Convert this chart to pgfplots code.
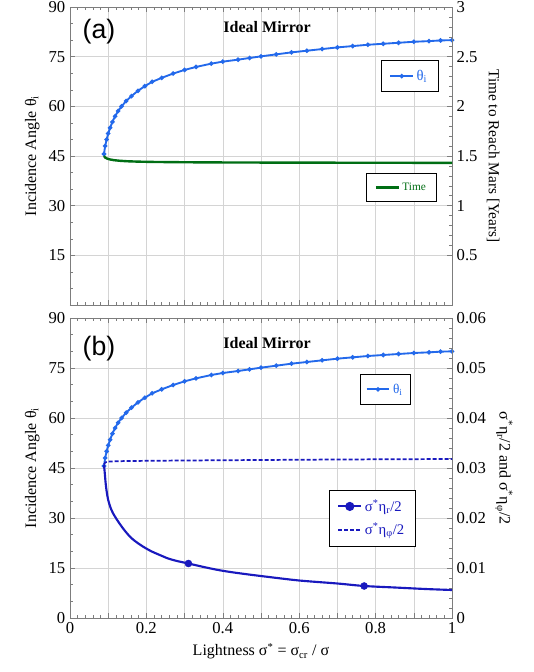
\documentclass[border=0pt]{standalone}
\usepackage{pgfplots}
\pgfplotsset{compat=1.18}
\usepackage{fontspec}
\setmainfont{Liberation Serif}
\newfontfamily\labfont{Liberation Sans}

\definecolor{thblue}{RGB}{35,105,235}
\definecolor{etablue}{RGB}{25,25,190}
\definecolor{tgreen}{RGB}{0,110,20}
\definecolor{framegray}{RGB}{125,125,125}
\definecolor{gridgray}{RGB}{212,212,212}

% incidence angle theta_i vs lightness
\pgfplotstableread{
s th
0.089 45.6
0.092 48.0
0.096 50.0
0.100 51.8
0.105 53.5
0.111 55.3
0.118 57.0
0.126 58.6
0.135 60.0
0.147 61.6
0.161 63.1
0.178 64.7
0.196 66.1
0.215 67.4
0.240 68.6
0.27 69.9
0.30 71.0
0.33 71.9
0.37 72.9
0.40 73.5
0.44 74.1
0.47 74.6
0.50 75.1
0.54 75.7
0.58 76.3
0.62 76.8
0.66 77.3
0.70 77.8
0.74 78.2
0.78 78.6
0.82 78.9
0.86 79.2
0.90 79.5
0.94 79.7
0.97 79.9
1.00 80.0
}\thetatab

% time to reach Mars [years]
\pgfplotstableread{
s t
0.089 1.500
0.092 1.485
0.097 1.474
0.105 1.465
0.115 1.458
0.130 1.452
0.150 1.447
0.180 1.443
0.220 1.440
0.30 1.437
0.40 1.435
0.50 1.434
0.60 1.433
0.80 1.432
1.00 1.431
}\timetab

% sigma* eta_r / 2
\pgfplotstableread{
s er
0.089 0.0306
0.091 0.0290
0.0934 0.0269
0.096 0.0253
0.100 0.0236
0.106 0.0221
0.113 0.0209
0.126 0.0193
0.140 0.0178
0.153 0.0166
0.165 0.0157
0.179 0.0149
0.195 0.0141
0.214 0.0133
0.235 0.0126
0.257 0.0119
0.28 0.0114
0.31 0.0109
0.35 0.0102
0.388 0.0096
0.42 0.0092
0.458 0.0088
0.51 0.0083
0.60 0.0075
0.70 0.0069
0.77 0.0064
0.85 0.0061
0.93 0.0058
1.00 0.0056
}\etartab

% sigma* eta_phi / 2
\pgfplotstableread{
s ep
0.089 0.0307
0.092 0.0311
0.100 0.0313
0.150 0.0314
0.30 0.0315
0.50 0.0316
0.70 0.0317
1.00 0.0318
}\etaptab

\pgfplotsset{
  base/.style={
    scale only axis, width=286.5pt, xmin=0, xmax=1,
    axis line style={framegray},
    tick style={framegray, thin},
    major tick length=4pt, minor tick length=2.5pt,
    ticklabel style={font=\fontsize{12.5}{14}\selectfont},
    /pgf/number format/assume math mode=true,
    label style={font=\fontsize{12}{14}\selectfont},
    scaled y ticks=false,
  },
  main/.style={
    base, ymin=0, ymax=90,
    ytick={0,15,30,45,60,75,90}, minor y tick num=2,
    xtick={0,0.1,0.2,0.3,0.4,0.5,0.6,0.7,0.8,0.9,1}, minor x tick num=4,
    grid=major, major grid style={gridgray, thin},
    ytick pos=left, xtick pos=both,
    ylabel={Incidence Angle θ\textsubscript{i}},
  },
  twin/.style={
    base, axis x line=none, axis y line*=right,
    ylabel style={rotate=180},
  },
  thline/.style={thblue, line width=1.4pt, mark=*, mark size=0.9pt},
  leg/.style={legend style={draw=black, fill=white, thin, inner xsep=6pt, inner ysep=5pt,
      anchor=center, legend cell align=left}},
}

\begin{document}
\begin{tikzpicture}
\useasboundingbox (0,0) rectangle (400.5pt,504pt);

% ---------- (a) ----------
\begin{axis}[main, at={(52.5pt,275.25pt)}, anchor=south west, height=223.5pt,
  yticklabels={,15,30,45,60,75,90},
  xticklabels={},
  leg, legend style={at={(0.889,0.768)}, font=\fontsize{11}{12}\selectfont}]
\addplot[thline] table[x=s, y=th] {\thetatab};
\addlegendentry{\textcolor{thblue}{θ\textsubscript{i}}}
\node[font=\labfont\fontsize{20}{22}\selectfont] at (rel axis cs:0.076,0.919) {(a)};
\node[font=\bfseries\fontsize{12}{14}\selectfont] at (rel axis cs:0.516,0.933) {Ideal Mirror};
\end{axis}

\begin{axis}[twin, at={(52.5pt,275.25pt)}, anchor=south west, height=223.5pt,
  ymin=0, ymax=3, ytick={0.5,1,1.5,2,2.5,3}, yticklabels={0.5,1,1.5,2,2.5,3},
  minor y tick num=4,
  ylabel={Time to Reach Mars [Years]},
  ylabel style={font=\fontsize{11.5}{13}\selectfont},
  leg, legend style={at={(0.868,0.394)}, font=\fontsize{8.5}{10}\selectfont}]
\addplot[tgreen, line width=1.8pt, no marks] table[x=s, y=t] {\timetab};
\addlegendentry{\textcolor{tgreen}{Time}}
\end{axis}

% ---------- (b) ----------
\begin{axis}[main, at={(52.5pt,40.5pt)}, anchor=south west, height=225pt,
  xticklabels={0,,0.2,,0.4,,0.6,,0.8,,1},
  xlabel={Lightness σ\textsuperscript{*} = σ\textsubscript{cr} / σ},
  leg, legend style={at={(0.826,0.762)}, font=\fontsize{10}{12}\selectfont, inner xsep=4pt}]
\addplot[thline] table[x=s, y=th] {\thetatab};
\addlegendentry{\textcolor{thblue}{θ\textsubscript{i}}}
\node[font=\labfont\fontsize{20}{22}\selectfont] at (rel axis cs:0.076,0.897) {(b)};
\node[font=\bfseries\fontsize{12}{14}\selectfont] at (rel axis cs:0.516,0.917) {Ideal Mirror};
\end{axis}

\begin{axis}[twin, at={(52.5pt,40.5pt)}, anchor=south west, height=225pt,
  ymin=0, ymax=0.06, ytick={0,0.01,0.02,0.03,0.04,0.05,0.06},
  yticklabels={0,0.01,0.02,0.03,0.04,0.05,0.06},
  minor y tick num=4,
  ylabel={σ\textsuperscript{*}η\textsubscript{r}/2 and σ\textsuperscript{*}η\textsubscript{φ}/2},
  leg, legend style={at={(0.791,0.333)}, font=\fontsize{11}{13}\selectfont, row sep=3pt}]
\addplot[etablue, line width=1.6pt, no marks, forget plot, smooth]
  table[x=s, y=er] {\etartab};
\addplot[etablue, only marks, mark=*, mark size=2.6pt, forget plot]
  coordinates {(0.31,0.0109) (0.77,0.0064)};
\addplot[etablue, line width=1.3pt, dash pattern=on 3pt off 1.5pt, no marks, forget plot]
  table[x=s, y=ep] {\etaptab};
\addlegendimage{etablue, line width=1.6pt, mark=*, mark size=2.6pt}
\addlegendentry{\textcolor{etablue}{σ\textsuperscript{*}η\textsubscript{r}/2}}
\addlegendimage{etablue, line width=1.3pt, dash pattern=on 3pt off 1.5pt}
\addlegendentry{\textcolor{etablue}{σ\textsuperscript{*}η\textsubscript{φ}/2}}
\end{axis}
\end{tikzpicture}
\end{document}
